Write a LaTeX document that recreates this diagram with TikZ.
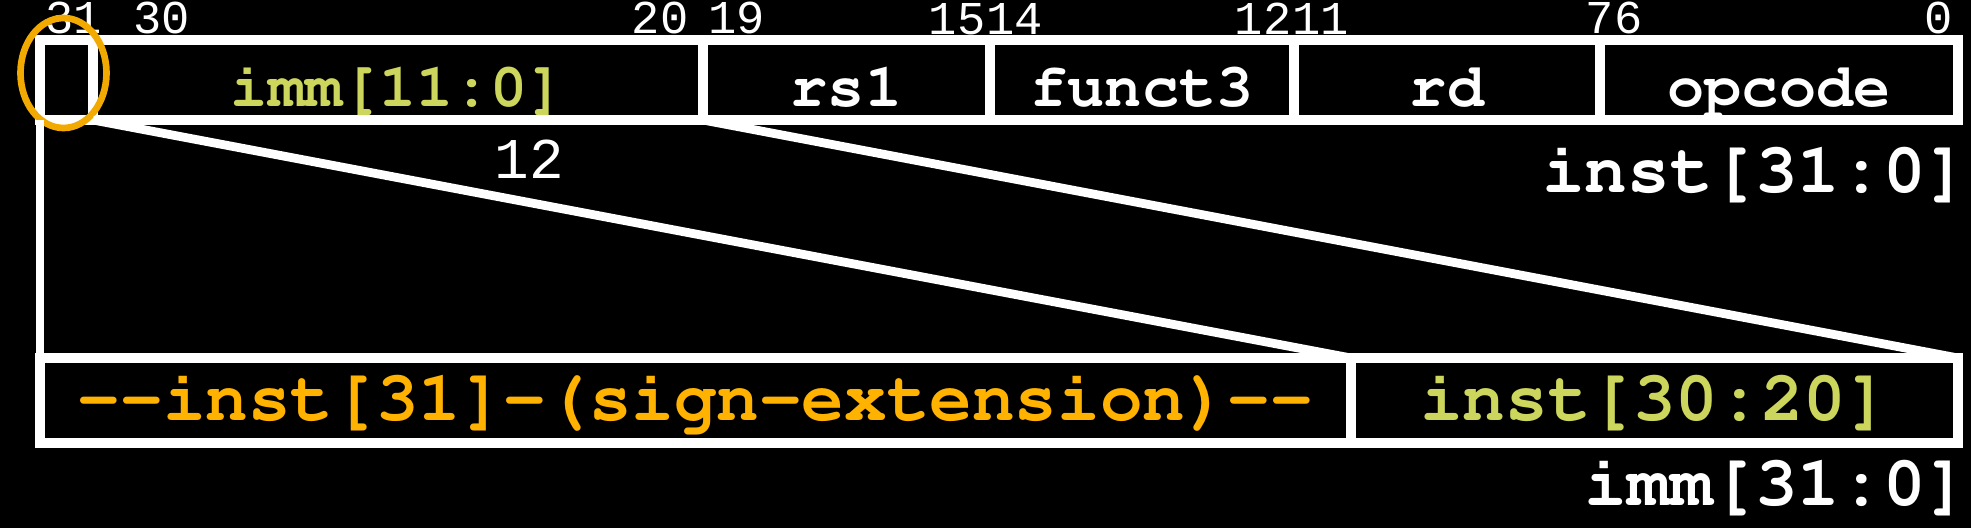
\documentclass[tikz,border=0pt]{standalone}
\usepackage{fontspec}
\usepackage[T1,TU]{fontenc}
\usepackage{tikz}
\usetikzlibrary{shapes,positioning}

\newfontfamily\bitfont{Liberation Mono}
\newcommand{\fieldfont}[1]{\fontencoding{T1}\fontfamily{pcr}\fontseries{b}\fontshape{n}\fontsize{#1}{#1}\selectfont}
\definecolor{signorange}{RGB}{255,178,0}
\definecolor{immgreen}{RGB}{205,214,92}
\definecolor{ringorange}{RGB}{242,170,0}

\begin{document}
\begin{tikzpicture}[
        node distance=0cm,
        field/.style={draw=white, text=white, rectangle, line width=2.8pt, inner sep=0pt, outer sep=0pt, minimum height=0.8cm, text height=0.52cm, text depth=0pt, font=\fieldfont{17.6}},
        lowfield/.style={field, minimum height=0.85cm, text height=0.4cm, font=\fieldfont{20.2}},
        bitnum/.style={text=white, inner sep=0pt, font=\bitfont\fontsize{13.4}{13.4}\selectfont},
        wide/.style={text=white, inner sep=0pt, font=\fieldfont{20.2}},
        wire/.style={draw=white, line width=2.5pt},
        ring/.style={ellipse, draw=ringorange, line width=1.9pt, inner sep=0pt, minimum width=0.86cm, minimum height=1.1cm}
    ]
        \path[use as bounding box, fill=black] (0,0) rectangle (19.71,-5.28);

        % inst[31:0]
        \node (sgn) [field, minimum width=0.53cm] at (0.665,-0.8) {};
        \node (imm) [field, minimum width=6.10cm, right=of sgn, text=immgreen] {imm[11:0]\hspace{0.15cm}};
        \node (rs) [field, minimum width=2.87cm, right=of imm] {rs1\hspace{0.2cm}};
        \node (fun) [field, minimum width=3.04cm, right=of rs] {funct3};
        \node (rdf) [field, minimum width=3.06cm, right=of fun] {rd};
        \node (opc) [field, minimum width=3.58cm, right=of rdf] {opcode\hspace{0.46cm}};

        % bit numbers
        \node (b31) [bitnum, above right=0.05cm and 0.05cm of sgn.north west] {31};
        \node (b30) [bitnum, above right=0.05cm and 0.4cm of imm.north west] {30};
        \node (b20) [bitnum, above left=0.05cm and 0.14cm of imm.north east] {20};
        \node (b19) [bitnum, above right=0.05cm and 0.05cm of rs.north west] {19};
        \node (b14) [bitnum, above right=0.05cm and -0.04cm of fun.north west] {14};
        \node (b15) [bitnum, left=of b14] {15};
        \node (b12) [bitnum, above left=0.05cm and 0.02cm of fun.north east] {12};
        \node (b11) [bitnum, right=of b12] {11};
        \node (b6) [bitnum, above right=0.05cm and 0.14cm of opc.north west] {6};
        \node (b7) [bitnum, left=of b6] {7};
        \node (b0) [bitnum, above left=0.05cm and 0.05cm of opc.north east] {0};

        \node (hl) [ring] at ([xshift=-0.03cm, yshift=0.07cm]sgn.center) {};
        \node (instlbl) [wide, below left=0.72cm and -0.11cm of opc.south east, anchor=base east] {inst[31:0]};

        % imm[31:0]
        \node (ext) [lowfield, minimum width=13.11cm, text=signorange, below=2.38cm of sgn.south west, anchor=north west] {-{}-inst[31]-(sign-extension)-{}-};
        \node (low) [lowfield, minimum width=6.07cm, text=immgreen, right=of ext] {inst[30:20]};
        \node (immlbl) [wide, below left=0.62cm and -0.11cm of low.south east, anchor=base east] {imm[31:0]};

        % Connections
        \draw[wire] (sgn.south west) -- (ext.north west);
        \draw[wire] (sgn.south east) -- (ext.north east) node (twelve) [pos=0.347, above=0.2cm, bitnum, font=\bitfont\fontsize{16.4}{16.4}\selectfont] {12};
        \draw[wire] (imm.south east) -- (low.north east);

    \end{tikzpicture}
\end{document}
